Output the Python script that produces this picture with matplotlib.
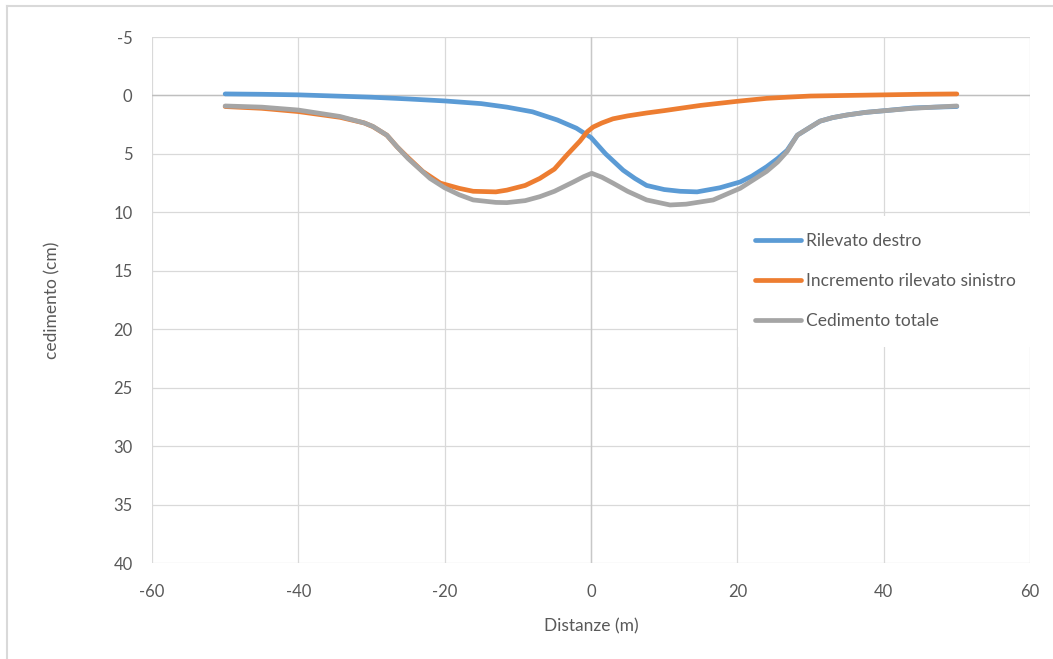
import matplotlib.pyplot as plt
from matplotlib.lines import Line2D

# Rilevato destro
x_dx = [-50, -45, -40, -35, -30, -25, -20, -15, -11.5, -8, -4.6, -2, -1, 0, 2, 4.4, 6, 7.6, 10, 12.2,
        14.5, 17.6, 20.4, 22, 24, 25.5, 26.8, 28.2, 30, 31.3, 33, 35, 37.5, 40.2, 44, 47, 50]
y_dx = [-0.13, -0.1, -0.05, 0.05, 0.15, 0.3, 0.47, 0.7, 1.0, 1.4, 2.1, 2.8, 3.2, 3.6, 5.0, 6.4, 7.1, 7.7, 8.05, 8.2,
        8.25, 7.9, 7.4, 6.9, 6.1, 5.4, 4.7, 3.4, 2.7, 2.2, 1.9, 1.67, 1.45, 1.3, 1.07, 1.0, 0.95]

# Incremento rilevato sinistro
x_sx = [-50, -45, -40, -34.3, -31, -29.8, -27.9, -26.5, -25.2, -23, -20.6, -18, -16.1, -13, -11.5, -9, -7, -5,
        -3.3, -1.5, -0.5, 0.3, 1.5, 3, 5, 7.6, 10, 12.2, 15, 20, 24, 26.8, 30, 35, 40, 45, 50]
y_sx = [0.95, 1.1, 1.38, 1.87, 2.35, 2.67, 3.4, 4.4, 5.2, 6.5, 7.5, 7.95, 8.2, 8.25, 8.1, 7.7, 7.1, 6.3,
        5.1, 3.9, 3.1, 2.7, 2.35, 2.0, 1.75, 1.5, 1.3, 1.1, 0.85, 0.5, 0.25, 0.15, 0.05, 0.0, -0.05, -0.1, -0.13]

# Cedimento totale
x_tot = [-50, -45, -40, -34.3, -31, -29.8, -27.9, -26.5, -25, -22, -20, -18, -16.1, -13, -11.5, -9, -7, -5,
         -2.4, -1, 0.1, 1.5, 3, 5, 7.6, 10.8, 13, 16.7, 20.4, 22, 24, 25.5, 26.8, 28.2, 30, 31.3, 33, 35,
         37.5, 40.2, 44, 47, 50]
y_tot = [0.9, 1.0, 1.25, 1.8, 2.35, 2.65, 3.4, 4.4, 5.4, 7.1, 7.9, 8.5, 8.94, 9.15, 9.17, 9.0, 8.66, 8.2,
         7.4, 6.95, 6.66, 7.0, 7.5, 8.2, 8.94, 9.37, 9.3, 8.94, 7.94, 7.3, 6.5, 5.7, 4.8, 3.4, 2.7, 2.2, 1.9, 1.67,
         1.45, 1.3, 1.1, 1.0, 0.9]

labels = ['Rilevato destro', 'Incremento rilevato sinistro', 'Cedimento totale']
colors = ['#5B9BD5', '#ED7D31', '#A5A5A5']

plt.rcParams['font.family'] = ['Lato', 'DejaVu Sans']
plt.rcParams['axes.unicode_minus'] = False
txt = '#595959'

fig = plt.figure(figsize=(10.53, 6.59), dpi=100)
ax = fig.add_axes([152/1053, 1-563/659, 878/1053, 526/659])

# chart frame (only left/top edges visible in the reference)
fig.add_artist(Line2D([7/1053, 7/1053], [0, 1-6/659], transform=fig.transFigure, color='#D9D9D9', lw=1.5))
fig.add_artist(Line2D([7/1053, 1], [1-6/659, 1-6/659], transform=fig.transFigure, color='#D9D9D9', lw=1.5))

ax.set_xlim(-60, 60)
ax.set_ylim(40, -5)
ax.set_xticks(range(-60, 61, 20))
ax.set_yticks(range(-5, 41, 5))
ax.grid(True, color='#D9D9D9', lw=0.9)
ax.set_axisbelow(True)
for s in ax.spines.values():
    s.set_visible(False)
ax.tick_params(length=0, labelsize=12, labelcolor=txt)
ax.tick_params(axis='x', pad=15)
ax.tick_params(axis='y', pad=14)
ax.axhline(0, color='#BFBFBF', lw=1.0, zorder=1)
ax.axvline(0, color='#C8C8C8', lw=1.0, zorder=1)

for xs, ys, c, lab in zip([x_dx, x_sx, x_tot], [y_dx, y_sx, y_tot], colors, labels):
    ax.plot(xs, ys, color=c, lw=3.4, label=lab, solid_capstyle='round', solid_joinstyle='round', zorder=3)

ax.set_xlabel('Distanze (m)', fontsize=12.5, color=txt, labelpad=13)
ax.set_ylabel('cedimento (cm)', fontsize=12.5, color=txt, labelpad=38)

leg = ax.legend(loc='upper left', bbox_to_anchor=(738/1053, 1-216/659), bbox_transform=fig.transFigure,
                frameon=True, fancybox=False, edgecolor='none', facecolor='white', framealpha=1,
                fontsize=12.5, handlelength=2.6, handletextpad=0.3, labelspacing=1.38,
                borderpad=1.0, borderaxespad=0)
for t in leg.get_texts():
    t.set_color(txt)

fig.savefig('out.png', dpi=100)
